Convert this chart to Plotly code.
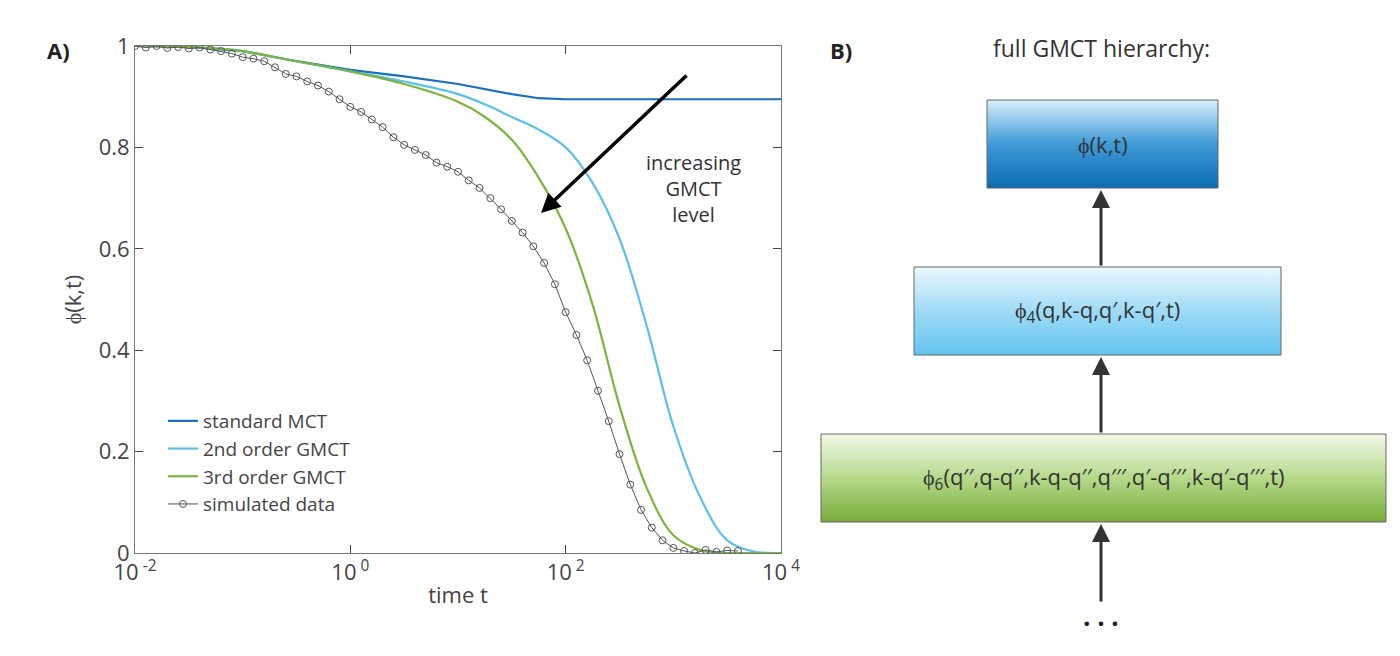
import plotly.graph_objects as go

# panel A data (log10 of time)
log_t_theory = [-2, -1.5, -1, -0.75, -0.5, 0, 0.5, 1, 1.25, 1.5, 1.75, 2, 2.25, 2.5, 2.75, 3, 3.25, 3.5, 3.75, 4]
mct_std = [1.0, 0.998, 0.99, 0.98, 0.97, 0.953, 0.94, 0.925, 0.915, 0.905, 0.897, 0.895, 0.895, 0.895, 0.895, 0.895, 0.895, 0.895, 0.895, 0.895]
gmct_2nd = [1.0, 0.998, 0.99, 0.98, 0.97, 0.95, 0.93, 0.905, 0.885, 0.86, 0.835, 0.8, 0.73, 0.62, 0.45, 0.25, 0.11, 0.025, 0.003, 0.0]
gmct_3rd = [1.0, 0.998, 0.99, 0.98, 0.97, 0.95, 0.925, 0.89, 0.86, 0.815, 0.74, 0.64, 0.49, 0.29, 0.13, 0.035, 0.006, 0.0, 0.0, 0.0]

log_t_sim = [-2.0, -1.9, -1.8, -1.7, -1.6, -1.5, -1.4, -1.3, -1.2, -1.1, -1.0, -0.9, -0.8, -0.7, -0.6,
             -0.5, -0.4, -0.3, -0.2, -0.1, 0.0, 0.1, 0.2, 0.3, 0.4, 0.5, 0.6, 0.7, 0.8, 0.9,
             1.0, 1.1, 1.2, 1.3, 1.4, 1.5, 1.6, 1.7, 1.8, 1.9, 2.0, 2.1, 2.2, 2.3, 2.4, 2.5,
             2.6, 2.7, 2.8, 2.9, 3.0, 3.1, 3.2, 3.3, 3.4, 3.5, 3.6]
sim_data = [1.0, 0.997, 1.0, 0.996, 0.998, 0.995, 0.997, 0.993, 0.99, 0.985, 0.978, 0.975, 0.97, 0.958, 0.945,
            0.94, 0.93, 0.922, 0.91, 0.895, 0.88, 0.87, 0.855, 0.84, 0.82, 0.805, 0.795, 0.785, 0.77, 0.762,
            0.752, 0.735, 0.72, 0.70, 0.678, 0.655, 0.632, 0.605, 0.572, 0.53, 0.475, 0.43, 0.38, 0.32, 0.26, 0.195,
            0.135, 0.085, 0.05, 0.025, 0.01, 0.004, 0.0, 0.006, 0.002, 0.005, 0.004]

tick_vals = [0.01, 1, 100, 10000]
tick_text = ["10<sup> -2</sup>", "10<sup> 0</sup>", "10<sup> 2</sup>", "10<sup> 4</sup>"]

# panel B
box_labels = ["ϕ(k,t)", "ϕ<sub>4</sub>(q,k-q,q′,k-q′,t)",
              "ϕ<sub>6</sub>(q′′,q-q′′,k-q-q′′,q′′′,q′-q′′′,k-q′-q′′′,t)"]
box_x = [(979, 1210), (906, 1273), (813, 1378)]
box_y = [(92, 180), (259, 347), (426, 514)]
box_colors = [["#0a6cb4", "#3f9ad6", "#d8eefa"],
              ["#62c4ef", "#9fdbf6", "#ecf8fd"],
              ["#76ad3a", "#b6d98a", "#f2f8ea"]]

FONT = "Open Sans"
GREY = "#444444"

fig = go.Figure()
to_t = lambda v: [10 ** x for x in v]

fig.add_trace(go.Scatter(x=to_t(log_t_theory), y=mct_std, mode="lines", name="standard MCT",
                         line=dict(color="#1a6fbf", width=2.2)))
fig.add_trace(go.Scatter(x=to_t(log_t_theory), y=gmct_2nd, mode="lines", name="2nd order GMCT",
                         line=dict(color="#5bc0ec", width=2.2, shape="spline")))
fig.add_trace(go.Scatter(x=to_t(log_t_theory), y=gmct_3rd, mode="lines", name="3rd order GMCT",
                         line=dict(color="#7ab53c", width=2.2, shape="spline")))
fig.add_trace(go.Scatter(x=to_t(log_t_sim), y=sim_data, mode="lines+markers", name="simulated data",
                         line=dict(color="#555555", width=1),
                         marker=dict(symbol="circle-open", size=7, color="#555555", line=dict(width=1))))

# hierarchy boxes with vertical gradient fills
for (x0, x1), (y0, y1), cols, lab in zip(box_x, box_y, box_colors, box_labels):
    fig.add_trace(go.Scatter(x=[x0, x1, x1, x0, x0], y=[y0, y0, y1, y1, y0], xaxis="x2", yaxis="y2",
                             mode="lines", fill="toself", line=dict(color="#666666", width=1),
                             fillgradient=dict(type="vertical",
                                               colorscale=[[0, cols[0]], [0.5, cols[1]], [1, cols[2]]]),
                             showlegend=False, hoverinfo="skip"))
    fig.add_annotation(x=(x0 + x1) / 2, y=(y0 + y1) / 2, xref="x2", yref="y2", text=lab, showarrow=False,
                       font=dict(family=FONT, size=22, color="#333333"))

# arrows between boxes
for y_from, y_to in [(259, 182), (426, 349), (595, 516)]:
    fig.add_annotation(x=1093, y=y_to, ax=1093, ay=y_from, xref="x2", yref="y2", axref="x2", ayref="y2",
                       text="", showarrow=True, arrowhead=2, arrowsize=1.2, arrowwidth=3, arrowcolor="#333333")
fig.add_annotation(x=1093, y=608, xref="x2", yref="y2", text="<b>. . .</b>", showarrow=False,
                   font=dict(family=FONT, size=26, color="#222222"))

# panel A annotations
fig.add_annotation(x=533, y=205, ax=680, ay=66, xref="x2", yref="y2", axref="x2", ayref="y2",
                   text="", showarrow=True, arrowhead=2, arrowsize=1.1, arrowwidth=3.5, arrowcolor="black")
fig.add_annotation(x=685, y=180, xref="x2", yref="y2", text="increasing<br>GMCT<br>level", showarrow=False,
                   font=dict(family=FONT, size=20, color="#333333"), bgcolor="white")
fig.add_annotation(x=50, y=42, xref="x2", yref="y2", text="<b>A)</b>", showarrow=False,
                   font=dict(family=FONT, size=22, color="#222222"))
fig.add_annotation(x=833, y=42, xref="x2", yref="y2", text="<b>B)</b>", showarrow=False,
                   font=dict(family=FONT, size=22, color="#222222"))
fig.add_annotation(x=1093, y=40, xref="x2", yref="y2", text="full GMCT hierarchy:", showarrow=False,
                   font=dict(family=FONT, size=23, color="#333333"))

fig.update_layout(
    width=1400, height=656, margin=dict(l=0, r=0, t=0, b=0, autoexpand=False),
    plot_bgcolor="rgba(0,0,0,0)", paper_bgcolor="white",
    font=dict(family=FONT, size=20, color=GREY),
    xaxis=dict(type="log", range=[-2, 4], domain=[127 / 1400, 773 / 1400], tickvals=tick_vals,
               ticktext=tick_text, ticks="inside", ticklen=8, showgrid=False, zeroline=False,
               showline=True, linecolor="#777777", mirror="ticks", tickfont=dict(size=22), automargin=False,
               title=dict(text="time t", standoff=2, font=dict(size=22))),
    yaxis=dict(range=[0, 1], domain=[1 - 545 / 656, 1 - 38 / 656], tickvals=[0, 0.2, 0.4, 0.6, 0.8, 1],
               ticktext=["0", "0.2", "0.4", "0.6", "0.8", "1"], ticks="inside", ticklen=8,
               showgrid=False, zeroline=False, showline=True, linecolor="#777777", mirror="ticks",
               tickfont=dict(size=22), automargin=False,
               title=dict(text="ϕ(k,t)", standoff=10, font=dict(size=22))),
    xaxis2=dict(range=[0, 1400], domain=[0, 1], visible=False, fixedrange=True),
    yaxis2=dict(range=[656, 0], domain=[0, 1], visible=False, fixedrange=True),
    legend=dict(x=155 / 1400, y=1 - 515 / 656, xanchor="left", yanchor="bottom", bgcolor="rgba(0,0,0,0)",
                font=dict(size=19, color=GREY), tracegroupgap=0),
)

fig.write_html("out.html")
